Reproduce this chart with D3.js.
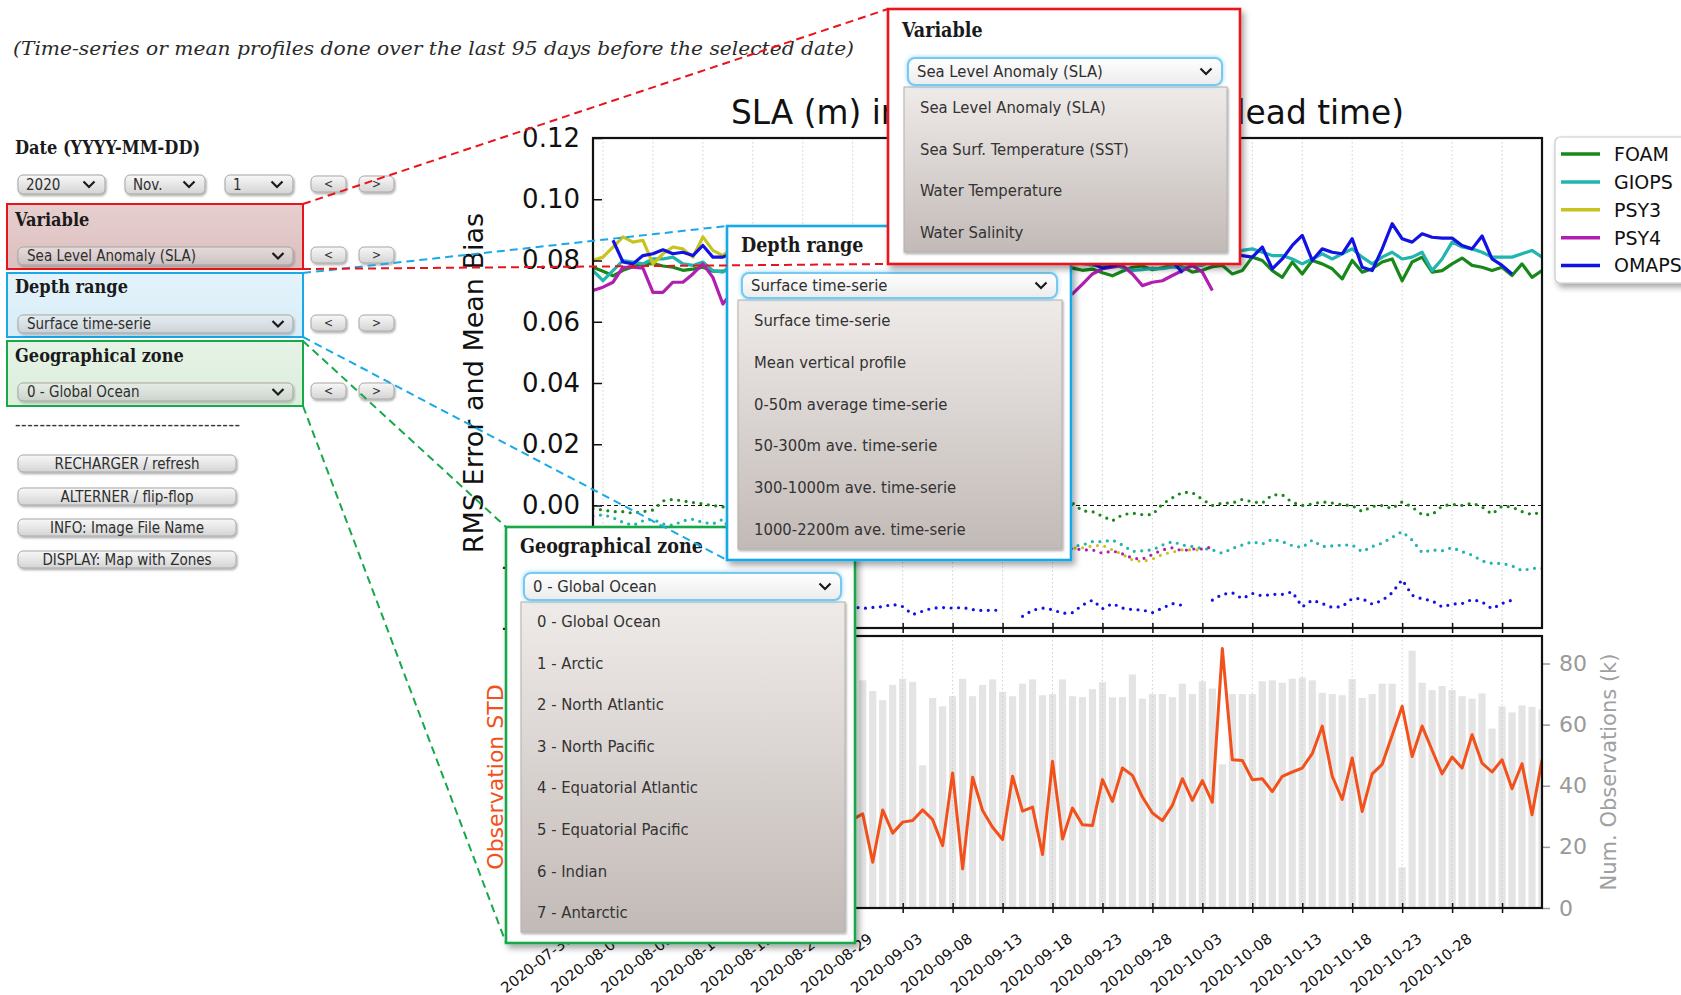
<!DOCTYPE html>
<html>
<head>
<meta charset="utf-8">
<script src="https://cdn.jsdelivr.net/npm/d3@7/dist/d3.min.js"></script>
<style>
  html, body { margin: 0; padding: 0; background: #fff; overflow: hidden; }
  svg { display: block; }
</style>
</head>
<body>
<svg id="page" width="1681" height="995"></svg>
<script>
// ---------------- data ----------------
const firstDay = "2020-07-29";
const lastDay = "2020-11-01";

const modelNames = ["FOAM", "GIOPS", "PSY3", "PSY4", "OMAPS"];
const modelColors = ["#18881a", "#22b4ae", "#c8c41e", "#b11fb1", "#1212e2"];

// RMS error (m), one value per day
const foamRmse = [
  0.0778, 0.0765, 0.0750, 0.0768, 0.0780, 0.0788, 0.0790, 0.0782,
  0.0778, 0.0768, 0.0772, 0.0778, 0.0765, 0.0765, 0.0772, 0.0785,
  0.0768, 0.0790, 0.0775, 0.0762, 0.0781, 0.0794, 0.0770, 0.0779,
  0.0766, 0.0788, 0.0783, 0.0771, 0.0759, 0.0777, 0.0792, 0.0780,
  0.0768, 0.0786, 0.0774, 0.0763, 0.0789, 0.0778, 0.0770, 0.0784,
  0.0796, 0.0772, 0.0765, 0.0781, 0.0776, 0.0790, 0.0769, 0.0782,
  0.0775, 0.0768, 0.0772, 0.0760, 0.0750, 0.0765, 0.0778, 0.0782,
  0.0770, 0.0776, 0.0785, 0.0779, 0.0762, 0.0768, 0.0780, 0.0784,
  0.0756, 0.0767, 0.0811, 0.0800, 0.0767, 0.0745, 0.0795, 0.0756,
  0.0800, 0.0789, 0.0773, 0.0740, 0.0800, 0.0762, 0.0773, 0.0795,
  0.0805, 0.0734, 0.0795, 0.0811, 0.0762, 0.0767, 0.0789, 0.0808,
  0.0784, 0.0778, 0.0767, 0.0778, 0.0751, 0.0789, 0.0745, 0.0767
];
const giopsRmse = [
  0.0767, 0.0734, 0.0767, 0.0800, 0.0795, 0.0789, 0.0805, 0.0805,
  0.0811, 0.0789, 0.0784, 0.0795, 0.0767, 0.0762, 0.0790, 0.0805,
  0.0812, 0.0798, 0.0820, 0.0806, 0.0793, 0.0815, 0.0826, 0.0801,
  0.0810, 0.0822, 0.0797, 0.0808, 0.0818, 0.0803, 0.0795, 0.0811,
  0.0825, 0.0806, 0.0799, 0.0814, 0.0821, 0.0802, 0.0809, 0.0817,
  0.0800, 0.0812, 0.0826, 0.0805, 0.0798, 0.0815, 0.0808, 0.0802,
  0.0795, 0.0790, 0.0785, 0.0780, 0.0792, 0.0776, 0.0768, 0.0770,
  0.0774, 0.0773, 0.0779, 0.0776, 0.0782, 0.0784, 0.0800, 0.0815,
  0.0827, 0.0833, 0.0838, 0.0827, 0.0816, 0.0816, 0.0805, 0.0789,
  0.0805, 0.0822, 0.0805, 0.0822, 0.0838, 0.0811, 0.0789, 0.0811,
  0.0827, 0.0805, 0.0811, 0.0827, 0.0767, 0.0805, 0.0860, 0.0844,
  0.0838, 0.0827, 0.0811, 0.0811, 0.0811, 0.0822, 0.0833, 0.0811
];
const psy3Rmse = [
  0.0800, 0.0811, 0.0844, 0.0877, 0.0860, 0.0866, 0.0789, 0.0822,
  0.0844, 0.0838, 0.0811, 0.0877, 0.0833, 0.0816, 0.0842, 0.0858,
  0.0835, 0.0850, 0.0868, 0.0840, 0.0829, 0.0855, 0.0862, 0.0838,
  0.0847, 0.0870, 0.0852, 0.0836, 0.0859, 0.0866, 0.0843, 0.0851,
  0.0872, 0.0848, 0.0839, 0.0861, 0.0855, 0.0868, 0.0845, 0.0837,
  0.0853, 0.0864, 0.0849, 0.0858, 0.0871, 0.0846, 0.0856, 0.0862,
  0.0850, 0.0843, 0.0858, 0.0866, 0.0847, 0.0852, 0.0861, 0.0845,
  0.0855, 0.0868, 0.0849, 0.0840, 0.0857, 0.0846, null, null,
  null, null, null, null, null, null, null, null,
  null, null, null, null, null, null, null, null,
  null, null, null, null, null, null, null, null,
  null, null, null, null, null, null, null, null
];
const psy4Rmse = [
  0.0702, 0.0713, 0.0729, 0.0778, 0.0778, 0.0775, 0.0696, 0.0696,
  0.0729, 0.0729, 0.0756, 0.0789, 0.0745, 0.0658, 0.0700, 0.0725,
  0.0748, 0.0712, 0.0735, 0.0760, 0.0741, 0.0718, 0.0730, 0.0752,
  0.0739, 0.0708, 0.0726, 0.0749, 0.0733, 0.0716, 0.0744, 0.0758,
  0.0731, 0.0720, 0.0747, 0.0738, 0.0712, 0.0729, 0.0755, 0.0742,
  0.0723, 0.0736, 0.0750, 0.0717, 0.0730, 0.0746, 0.0728, 0.0705,
  0.0691, 0.0723, 0.0756, 0.0773, 0.0778, 0.0784, 0.0756, 0.0718,
  0.0729, 0.0734, 0.0751, 0.0767, 0.0784, 0.0762, 0.0702, null,
  null, null, null, null, null, null, null, null,
  null, null, null, null, null, null, null, null,
  null, null, null, null, null, null, null, null,
  null, null, null, null, null, null, null, null
];
const omapsRmse = [
  null, null, 0.0866, 0.0795, 0.0789, 0.0816, 0.0822, 0.0835,
  0.0822, 0.0827, 0.0816, 0.0849, 0.0811, 0.0811, 0.0825, 0.0838,
  0.0819, 0.0831, 0.0845, 0.0828, 0.0815, 0.0836, 0.0842, 0.0824,
  0.0833, 0.0818, 0.0840, 0.0847, 0.0826, 0.0821, 0.0839, 0.0830,
  0.0816, 0.0835, 0.0844, 0.0827, 0.0820, 0.0838, 0.0829, 0.0841,
  0.0832, 0.0823, null, 0.0818, 0.0834, 0.0826, 0.0815, 0.0830,
  0.0812, 0.0800, 0.0790, 0.0775, 0.0782, 0.0792, 0.0805, 0.0812,
  0.0809, 0.0815, 0.0798, 0.0760, null, null, 0.0822, 0.0830,
  0.0826, 0.0816, 0.0811, 0.0844, 0.0773, 0.0805, 0.0849, 0.0882,
  0.0800, 0.0838, 0.0827, 0.0822, 0.0871, 0.0778, 0.0767, 0.0838,
  0.0920, 0.0871, 0.0860, 0.0887, 0.0876, 0.0873, 0.0873, 0.0849,
  0.0838, 0.0880, 0.0805, 0.0784, 0.0756, null, null, null
];

// Mean bias (m), one value per day
const foamBias = [
  -0.0010, -0.0015, -0.0020, -0.0020, -0.0025, -0.0020, -0.0015, 0.0015,
  0.0020, 0.0015, 0.0010, 0.0005, 0.0000, -0.0005, 0.0010, 0.0020,
  0.0005, -0.0010, 0.0015, 0.0025, 0.0000, -0.0015, 0.0010, 0.0030,
  0.0015, -0.0005, 0.0008, 0.0022, -0.0012, 0.0004, 0.0018, 0.0026,
  0.0010, -0.0008, 0.0012, 0.0030, 0.0016, 0.0002, -0.0010, 0.0008,
  0.0020, 0.0012, -0.0004, 0.0006, 0.0015, 0.0003, -0.0006, 0.0004,
  0.0008, -0.0018, -0.0020, -0.0035, -0.0050, -0.0030, -0.0025, -0.0030,
  -0.0030, 0.0005, 0.0025, 0.0043, 0.0042, 0.0020, 0.0000, 0.0008,
  0.0008, 0.0020, 0.0012, 0.0008, 0.0035, 0.0035, 0.0010, 0.0000,
  0.0005, 0.0012, 0.0008, 0.0002, 0.0000, -0.0020, -0.0003, 0.0000,
  -0.0010, 0.0012, -0.0005, -0.0030, -0.0030, -0.0002, 0.0004, 0.0000,
  0.0008, -0.0005, -0.0028, -0.0002, -0.0005, -0.0020, -0.0030, -0.0020
];
const giopsBias = [
  -0.0035, -0.0030, -0.0040, -0.0055, -0.0065, -0.0050, -0.0045, -0.0060,
  -0.0065, -0.0050, -0.0045, -0.0055, -0.0060, -0.0045, -0.0090, -0.0110,
  -0.0120, -0.0105, -0.0130, -0.0115, -0.0125, -0.0140, -0.0118, -0.0128,
  -0.0135, -0.0122, -0.0110, -0.0132, -0.0140, -0.0125, -0.0118, -0.0130,
  -0.0138, -0.0124, -0.0116, -0.0131, -0.0142, -0.0127, -0.0120, -0.0133,
  -0.0126, -0.0117, -0.0135, -0.0141, -0.0128, -0.0122, -0.0136, -0.0130,
  -0.0134, -0.0129, -0.0118, -0.0118, -0.0113, -0.0129, -0.0150, -0.0148,
  -0.0145, -0.0129, -0.0118, -0.0129, -0.0134, -0.0140, -0.0145, -0.0156,
  -0.0140, -0.0129, -0.0118, -0.0126, -0.0110, -0.0118, -0.0131, -0.0137,
  -0.0113, -0.0134, -0.0132, -0.0129, -0.0129, -0.0151, -0.0134, -0.0123,
  -0.0104, -0.0085, -0.0113, -0.0154, -0.0145, -0.0148, -0.0137, -0.0151,
  -0.0162, -0.0181, -0.0189, -0.0189, -0.0197, -0.0213, -0.0205, -0.0205
];
const psy3Bias = [
  -0.0140, -0.0150, -0.0135, -0.0160, -0.0148, -0.0155, -0.0170, -0.0145,
  -0.0152, -0.0138, -0.0160, -0.0149, -0.0142, -0.0165, -0.0150, -0.0158,
  -0.0144, -0.0162, -0.0151, -0.0139, -0.0157, -0.0148, -0.0166, -0.0153,
  -0.0141, -0.0159, -0.0150, -0.0163, -0.0146, -0.0155, -0.0142, -0.0160,
  -0.0149, -0.0137, -0.0156, -0.0164, -0.0145, -0.0152, -0.0140, -0.0158,
  -0.0150, -0.0143, -0.0161, -0.0147, -0.0155, -0.0139, -0.0152, -0.0146,
  -0.0140, -0.0138, -0.0132, -0.0130, -0.0145, -0.0160, -0.0178, -0.0183,
  -0.0175, -0.0160, -0.0152, -0.0145, -0.0145, -0.0145, null, null,
  null, null, null, null, null, null, null, null,
  null, null, null, null, null, null, null, null,
  null, null, null, null, null, null, null, null,
  null, null, null, null, null, null, null, null
];
const psy4Bias = [
  -0.0150, -0.0162, -0.0145, -0.0170, -0.0158, -0.0148, -0.0165, -0.0155,
  -0.0142, -0.0160, -0.0152, -0.0168, -0.0147, -0.0156, -0.0163, -0.0149,
  -0.0158, -0.0144, -0.0161, -0.0153, -0.0140, -0.0166, -0.0150, -0.0157,
  -0.0146, -0.0163, -0.0155, -0.0148, -0.0160, -0.0143, -0.0157, -0.0151,
  -0.0164, -0.0149, -0.0141, -0.0158, -0.0152, -0.0167, -0.0145, -0.0154,
  -0.0160, -0.0147, -0.0156, -0.0143, -0.0159, -0.0151, -0.0146, -0.0153,
  -0.0140, -0.0145, -0.0145, -0.0156, -0.0148, -0.0158, -0.0172, -0.0175,
  -0.0160, -0.0145, -0.0138, -0.0148, -0.0142, -0.0142, -0.0135, null,
  null, null, null, null, null, null, null, null,
  null, null, null, null, null, null, null, null,
  null, null, null, null, null, null, null, null,
  null, null, null, null, null, null, null, null
];
const omapsBias = [
  null, null, -0.0330, -0.0345, -0.0338, -0.0326, -0.0340, -0.0352,
  -0.0335, -0.0322, -0.0341, -0.0348, -0.0330, -0.0337, -0.0344, -0.0328,
  -0.0339, -0.0350, -0.0333, -0.0325, -0.0342, -0.0336, -0.0347, -0.0331,
  -0.0338, -0.0344, -0.0330, -0.0336, -0.0333, -0.0330, -0.0323, -0.0330,
  -0.0356, -0.0345, -0.0335, -0.0333, -0.0335, -0.0333, -0.0340, -0.0343,
  -0.0342, -0.0342, null, -0.0362, -0.0342, -0.0335, -0.0340, -0.0352,
  -0.0350, -0.0325, -0.0309, -0.0337, -0.0320, -0.0335, -0.0340, -0.0341,
  -0.0350, -0.0335, -0.0320, -0.0326, null, null, -0.0309, -0.0290,
  -0.0285, -0.0304, -0.0287, -0.0295, -0.0290, -0.0290, -0.0282, -0.0331,
  -0.0309, -0.0320, -0.0333, -0.0330, -0.0304, -0.0304, -0.0322, -0.0310,
  -0.0285, -0.0242, -0.0293, -0.0305, -0.0311, -0.0331, -0.0322, -0.0320,
  -0.0307, -0.0315, -0.0337, -0.0320, -0.0309, null, null, null
];

// Number of observations per day (thousands)
const numObs = [
  72, 69, 74, 71, 68, 73, 75, 70,
  69, 72, 74, 67, 71, 73, 70, 68,
  74, 72, 69, 71, 75, 70, 66, 72,
  73, 69, 71, 74.5, 71, 68, 73, 75,
  74, 46.7, 68.7, 66, 69.3, 75, 69.3, 73,
  74.8, 70.7, 69.3, 73.4, 74.8, 69.6, 70, 74.8,
  69.3, 69, 71.6, 73.9, 68.9, 69, 76.4, 68.5,
  70, 70, 69, 73.4, 70, 74.2, 71.8, 47,
  70, 70, 70, 74.2, 74.5, 73.7, 75, 75.4,
  74.5, 70.4, 70, 69.6, 74.9, 68.7, 70, 73.4,
  73.4, 13.3, 84.2, 73.7, 71.3, 72.6, 71.3, 69.3,
  68.5, 70.2, 58.7, 66, 64, 66.3, 65.8, 65
];
// Standard deviation of the observations (cm)
const obsStd = [
  2.80, 3.50, 2.40, 3.10, 3.90, 2.60, 3.30, 2.20,
  3.00, 3.60, 2.70, 2.50, 3.40, 2.90, 2.10, 3.20,
  3.70, 2.60, 3.00, 2.30, 3.50, 2.80, 2.40, 3.10,
  2.70, 3.30, 2.90, 3.08, 1.50, 3.21, 2.45, 2.81,
  2.86, 3.21, 2.89, 2.04, 4.42, 1.28, 4.28, 3.19,
  2.64, 2.24, 4.31, 3.17, 3.30, 1.75, 4.80, 2.26,
  3.27, 2.72, 2.70, 4.20, 3.49, 4.58, 4.34, 3.63,
  3.11, 2.86, 3.36, 4.23, 3.52, 4.17, 3.46, 8.49,
  4.85, 4.83, 4.20, 4.23, 3.81, 4.31, 4.45, 4.58,
  5.05, 5.95, 4.31, 3.55, 4.91, 3.16, 4.39, 4.70,
  5.65, 6.60, 4.96, 5.95, 5.16, 4.39, 4.94, 4.58,
  5.67, 4.74, 4.45, 4.85, 3.90, 4.72, 3.05, 4.85
];

const tickDates = [
  "2020-07-30", "2020-08-04", "2020-08-09", "2020-08-14", "2020-08-19",
  "2020-08-24", "2020-08-29", "2020-09-03", "2020-09-08", "2020-09-13",
  "2020-09-18", "2020-09-23", "2020-09-28", "2020-10-03", "2020-10-08",
  "2020-10-13", "2020-10-18", "2020-10-23", "2020-10-28"
];
const rmseTicks = [-0.04, -0.02, 0.00, 0.02, 0.04, 0.06, 0.08, 0.10, 0.12];
const obsTicks = [0, 20, 40, 60, 80];
const stdTicks = [0, 2, 4, 6, 8];

const chartTitle = "SLA (m) in Global Ocean (best lead time)";
const subtitle = "(Time-series or mean profiles done over the last 95 days before the selected date)";
const dateSelects = ["2020", "Nov.", "1"];
const variableOptions = ["Sea Level Anomaly (SLA)", "Sea Surf. Temperature (SST)", "Water Temperature", "Water Salinity"];
const depthOptions = ["Surface time-serie", "Mean vertical profile", "0-50m average time-serie",
  "50-300m ave. time-serie", "300-1000m ave. time-serie", "1000-2200m ave. time-serie"];
const zoneOptions = ["0 - Global Ocean", "1 - Arctic", "2 - North Atlantic", "3 - North Pacific",
  "4 - Equatorial Atlantic", "5 - Equatorial Pacific", "6 - Indian", "7 - Antarctic"];
const actionButtons = ["RECHARGER / refresh", "ALTERNER / flip-flop", "INFO: Image File Name", "DISPLAY: Map with Zones"];

// ---------------- setup ----------------
const svg = d3.select("#page");
const defs = svg.append("defs");
const chartFont = "'DejaVu Sans', sans-serif";
const serifFont = "'DejaVu Serif Condensed', 'DejaVu Serif', serif";
const uiFont = "'DejaVu Sans Condensed', 'DejaVu Sans', sans-serif";

const parse = d3.timeParse("%Y-%m-%d");
const days = d3.timeDay.range(parse(firstDay), d3.timeDay.offset(parse(lastDay), 1));
const tickVals = tickDates.map(parse);

const X0 = 593, X1 = 1542, TOP0 = 138, TOP1 = 628, BOT0 = 636, BOT1 = 908;
const x = d3.scaleTime().domain([parse(firstDay), parse(lastDay)]).range([X0, X1]);
const yTop = d3.scaleLinear().domain([-0.04, 0.12]).range([TOP1, TOP0]);
const yObs = d3.scaleLinear().domain([0, 89]).range([BOT1, BOT0]);
const yStd = d3.scaleLinear().domain([0, 8.9]).range([BOT1, BOT0]);

defs.append("clipPath").attr("id", "clipTop").append("rect")
  .attr("x", X0).attr("y", TOP0).attr("width", X1 - X0).attr("height", TOP1 - TOP0);
defs.append("clipPath").attr("id", "clipBot").append("rect")
  .attr("x", X0).attr("y", BOT0).attr("width", X1 - X0).attr("height", BOT1 - BOT0);

const sh = defs.append("filter").attr("id", "shadow")
  .attr("x", "-10%").attr("y", "-10%").attr("width", "125%").attr("height", "125%");
sh.append("feDropShadow").attr("dx", 3).attr("dy", 4).attr("stdDeviation", 3)
  .attr("flood-color", "#000").attr("flood-opacity", 0.35);
const sh2 = defs.append("filter").attr("id", "softShadow")
  .attr("x", "-5%").attr("y", "-20%").attr("width", "112%").attr("height", "160%");
sh2.append("feDropShadow").attr("dx", 1).attr("dy", 1.5).attr("stdDeviation", 1)
  .attr("flood-color", "#000").attr("flood-opacity", 0.35);
const glow = defs.append("filter").attr("id", "glow")
  .attr("x", "-10%").attr("y", "-40%").attr("width", "120%").attr("height", "180%");
glow.append("feDropShadow").attr("dx", 0).attr("dy", 0).attr("stdDeviation", 2)
  .attr("flood-color", "#5cc0f0").attr("flood-opacity", 0.7);

function vGrad(id, stops) {
  const g = defs.append("linearGradient").attr("id", id)
    .attr("x1", 0).attr("y1", 0).attr("x2", 0).attr("y2", 1);
  stops.forEach(([o, c, op]) => g.append("stop").attr("offset", o)
    .attr("stop-color", c).attr("stop-opacity", op == null ? 1 : op));
}
vGrad("gBtn", [[0, "#f8f8f8"], [1, "#d4d4d4"]]);
vGrad("gTint", [[0, "#ffffff", 0.45], [1, "#cfcfcf", 0.55]]);
vGrad("gList", [[0, "#efebe9"], [1, "#c2bab7"]]);
vGrad("gFocus", [[0, "#ffffff"], [1, "#ececec"]]);
vGrad("gRedBox", [[0, "#e7cfcf"], [1, "#dcbfbf"]]);
vGrad("gBlueBox", [[0, "#e4f3fb"], [1, "#d8edf8"]]);
vGrad("gGreenBox", [[0, "#e6f3e6"], [1, "#dbeedb"]]);

// ---------------- chart ----------------
const chart = svg.append("g").attr("font-family", chartFont);

// bars: number of observations
chart.append("g").attr("clip-path", "url(#clipBot)")
  .selectAll("rect").data(numObs).join("rect")
  .attr("x", (d, i) => x(days[i]) - 3.6).attr("width", 7.2)
  .attr("y", d => yObs(d)).attr("height", d => BOT1 - yObs(d))
  .attr("fill", "#e4e4e4");

// vertical grid
[[TOP0, TOP1], [BOT0, BOT1]].forEach(([a, b]) => {
  chart.append("g").selectAll("line").data(tickVals).join("line")
    .attr("x1", d => x(d)).attr("x2", d => x(d)).attr("y1", a).attr("y2", b)
    .attr("stroke", "#cfcfcf").attr("stroke-width", 1).attr("stroke-dasharray", "1.5 2.5");
});

// observation std line
const stdLine = d3.line().x((d, i) => x(days[i])).y(d => yStd(d));
chart.append("path").attr("clip-path", "url(#clipBot)")
  .attr("d", stdLine(obsStd)).attr("fill", "none")
  .attr("stroke", "#f2511c").attr("stroke-width", 3).attr("stroke-linejoin", "round");

// zero line
chart.append("line").attr("x1", X0).attr("x2", X1).attr("y1", yTop(0)).attr("y2", yTop(0))
  .attr("stroke", "#111").attr("stroke-width", 1.2).attr("stroke-dasharray", "4 3");

const modelLine = d3.line().defined(d => d != null)
  .x((d, i) => x(days[i])).y(d => yTop(d));
const biasSeries = [foamBias, giopsBias, psy3Bias, psy4Bias, omapsBias];
const rmseSeries = [foamRmse, giopsRmse, psy3Rmse, psy4Rmse, omapsRmse];
const topG = chart.append("g").attr("clip-path", "url(#clipTop)");
biasSeries.forEach((s, k) => {
  topG.append("path").attr("d", modelLine(s)).attr("fill", "none")
    .attr("stroke", modelColors[k]).attr("stroke-width", 3.2)
    .attr("stroke-linecap", "round").attr("stroke-dasharray", "0 7.5");
});
rmseSeries.forEach((s, k) => {
  topG.append("path").attr("d", modelLine(s)).attr("fill", "none")
    .attr("stroke", modelColors[k]).attr("stroke-width", 3.2).attr("stroke-linejoin", "round");
});

// axes
function styleAxis(g, color, size) {
  g.select(".domain").remove();
  g.selectAll(".tick line").attr("stroke", color).attr("stroke-width", 1.5);
  g.selectAll(".tick text").attr("fill", color).attr("font-size", size).attr("font-family", chartFont);
}
chart.append("g").attr("transform", `translate(${X0},0)`)
  .call(d3.axisLeft(yTop).tickValues(rmseTicks).tickSize(-9).tickPadding(13).tickFormat(d3.format(".2f")))
  .call(g => styleAxis(g, "#111", 26));
chart.append("g").attr("transform", `translate(0,${TOP1 - 5})`)
  .call(d3.axisBottom(x).tickValues(tickVals).tickSize(10).tickFormat(""))
  .call(g => styleAxis(g, "#111", 16));
chart.append("g").attr("transform", `translate(0,${BOT1 - 5})`)
  .call(d3.axisBottom(x).tickValues(tickVals).tickSize(10).tickFormat(""))
  .call(g => styleAxis(g, "#111", 16));
chart.append("g").attr("transform", `translate(${X1},0)`)
  .call(d3.axisRight(yObs).tickValues(obsTicks).tickSize(8).tickPadding(9))
  .call(g => styleAxis(g, "#9a9a9a", 22));
// left axis of the std line (its labels sit under the zone panel)
chart.append("g").attr("transform", `translate(${X0},0)`)
  .call(d3.axisLeft(yStd).tickValues(stdTicks).tickSize(8).tickFormat(""))
  .call(g => styleAxis(g, "#f2511c", 22));

// date labels, slanted
const fmt = d3.timeFormat("%Y-%m-%d");
chart.append("g").selectAll("text").data(tickVals).join("text")
  .attr("transform", d => `translate(${x(d) - 36},${BOT1 + 24}) rotate(-38)`)
  .attr("text-anchor", "end").attr("dy", "0.75em")
  .attr("font-size", 14.8).attr("fill", "#111").text(d => fmt(d));

// frames
[[TOP0, TOP1], [BOT0, BOT1]].forEach(([a, b]) => {
  chart.append("rect").attr("x", X0).attr("y", a).attr("width", X1 - X0).attr("height", b - a)
    .attr("fill", "none").attr("stroke", "#111").attr("stroke-width", 2.2);
});

// titles
chart.append("text").attr("x", (X0 + X1) / 2).attr("y", 124).attr("text-anchor", "middle")
  .attr("font-size", 32.8).attr("fill", "#111").text(chartTitle);
chart.append("text").attr("transform", `translate(483,${(TOP0 + TOP1) / 2}) rotate(-90)`)
  .attr("text-anchor", "middle").attr("font-size", 27).attr("fill", "#111").text("RMS Error and Mean Bias");
chart.append("text").attr("transform", `translate(503,${(BOT0 + BOT1) / 2 + 5}) rotate(-90)`)
  .attr("text-anchor", "middle").attr("font-size", 22).attr("fill", "#f2511c").text("Observation STD");
chart.append("text").attr("transform", `translate(1616,${(BOT0 + BOT1) / 2}) rotate(-90)`)
  .attr("text-anchor", "middle").attr("font-size", 21).attr("fill", "#a0a0a0").text("Num. Observations (k)");

// legend
const leg = chart.append("g");
leg.append("rect").attr("x", 1555).attr("y", 137).attr("width", 150).attr("height", 146).attr("rx", 5)
  .attr("fill", "#fff").attr("stroke", "#c8c8c8").attr("stroke-width", 1.2).attr("filter", "url(#shadow)");
const legItems = leg.selectAll("g.item").data(modelNames).join("g")
  .attr("transform", (d, i) => `translate(0,${154 + i * 27.9})`);
legItems.append("line").attr("x1", 1561).attr("x2", 1600)
  .attr("stroke", (d, i) => modelColors[i]).attr("stroke-width", 3.5);
legItems.append("text").attr("x", 1614).attr("dy", "0.36em").attr("font-size", 19)
  .attr("fill", "#111").text(d => d);

// ---------------- control panel ----------------
const ui = svg.append("g");

function selectBox(g, x0, y0, w, h, label, o = {}) {
  g.append("rect").attr("x", x0).attr("y", y0).attr("width", w).attr("height", h).attr("rx", o.focused ? 7 : 5)
    .attr("fill", o.focused ? "url(#gFocus)" : (o.tinted ? "url(#gTint)" : "url(#gBtn)"))
    .attr("stroke", o.focused ? "#78c9f0" : "#a5a5a5").attr("stroke-width", o.focused ? 2 : 1)
    .attr("filter", o.focused ? "url(#glow)" : "url(#softShadow)");
  g.append("text").attr("x", x0 + (o.pad || 9)).attr("y", y0 + h / 2).attr("dy", "0.36em")
    .attr("font-family", uiFont).attr("font-size", o.fs || 15).attr("fill", "#2e2e2e").text(label);
  const cx = x0 + w - (o.chev || 15), cy = y0 + h / 2;
  g.append("path").attr("d", `M${cx - 5.5},${cy - 3}L${cx},${cy + 2.5}L${cx + 5.5},${cy - 3}`)
    .attr("fill", "none").attr("stroke", "#1a1a1a").attr("stroke-width", 2.2);
}
function pushButton(g, x0, y0, w, h, label, fs) {
  g.append("rect").attr("x", x0).attr("y", y0).attr("width", w).attr("height", h).attr("rx", 5)
    .attr("fill", "url(#gBtn)").attr("stroke", "#a8a8a8").attr("stroke-width", 1)
    .attr("filter", "url(#softShadow)");
  g.append("text").attr("x", x0 + w / 2).attr("y", y0 + h / 2).attr("dy", "0.36em").attr("text-anchor", "middle")
    .attr("font-family", uiFont).attr("font-size", fs).attr("fill", "#2e2e2e").text(label);
}
function heading(g, x0, y0, label, fs) {
  g.append("text").attr("x", x0).attr("y", y0).attr("font-family", serifFont).attr("font-weight", "bold")
    .attr("font-size", fs).attr("fill", "#1a1a1a").text(label);
}

ui.append("text").attr("x", 13).attr("y", 55).attr("font-family", "'DejaVu Serif', serif").attr("font-style", "italic")
  .attr("font-size", 18.5).attr("fill", "#2a2a2a")
  .attr("textLength", 841).attr("lengthAdjust", "spacingAndGlyphs").text(subtitle);

heading(ui, 15, 154, "Date (YYYY-MM-DD)", 18);
const dateBoxes = [[18, 87], [125, 80], [225, 68]];
dateSelects.forEach((t, i) => selectBox(ui, dateBoxes[i][0], 175, dateBoxes[i][1], 19, t, { pad: 8, chev: 16 }));

// coloured selection panels
const panels = [
  { y: 204, h: 65, fill: "url(#gRedBox)", stroke: "#e8141c", title: "Variable", ty: 226, sy: 247, label: variableOptions[0] },
  { y: 273, h: 64, fill: "url(#gBlueBox)", stroke: "#19a9e6", title: "Depth range", ty: 293, sy: 315, label: depthOptions[0] },
  { y: 341, h: 65, fill: "url(#gGreenBox)", stroke: "#17a84a", title: "Geographical zone", ty: 362, sy: 383, label: zoneOptions[0] }
];
panels.forEach(p => {
  ui.append("rect").attr("x", 7).attr("y", p.y).attr("width", 296).attr("height", p.h)
    .attr("fill", p.fill).attr("stroke", p.stroke).attr("stroke-width", 2);
  heading(ui, 15, p.ty, p.title, 18);
  selectBox(ui, 18, p.sy, 275, 18, p.label, { tinted: true, pad: 9, chev: 15 });
});
[176, 247, 315, 383].forEach(yy => {
  pushButton(ui, 311, yy, 35, 16, "<", 12);
  pushButton(ui, 359, yy, 35, 16, ">", 12);
});

ui.append("text").attr("x", 15).attr("y", 431).attr("font-family", serifFont).attr("font-size", 18)
  .attr("fill", "#333").attr("textLength", 225).attr("lengthAdjust", "spacing")
  .text("-------------------------------------");
[455, 488, 519, 551].forEach((yy, i) => pushButton(ui, 18, yy, 218, 17, actionButtons[i], 15));

// ---------------- opened drop-down panels ----------------
function popup(c) {
  const g = svg.append("g");
  g.append("rect").attr("x", c.x).attr("y", c.y).attr("width", c.w).attr("height", c.h)
    .attr("fill", "#fff").attr("stroke", c.color).attr("stroke-width", 2.6).attr("filter", "url(#shadow)");
  heading(g, c.x + 14, c.ty, c.title, 19.5);
  g.append("rect").attr("x", c.lx).attr("y", c.ly).attr("width", c.lw).attr("height", c.lh)
    .attr("fill", "url(#gList)").attr("stroke", "#b5b0ad").attr("stroke-width", 1).attr("filter", "url(#softShadow)");
  selectBox(g, c.sx, c.sy, c.sw, c.sh, c.options[0], { focused: true, fs: 16.5, pad: 9, chev: 16 });
  g.selectAll("text.item").data(c.options).join("text").attr("class", "item")
    .attr("x", c.lx + 16).attr("y", (d, i) => c.iy + i * c.step)
    .attr("font-family", uiFont).attr("font-size", 16.5).attr("fill", "#333").text(d => d);
  return g;
}
function dashed(pts, color) {
  pts.forEach(([a, b, c2, d]) => svg.append("line").attr("x1", a).attr("y1", b).attr("x2", c2).attr("y2", d)
    .attr("stroke", color).attr("stroke-width", 2).attr("stroke-dasharray", "8 5"));
}

popup({ x: 506, y: 527, w: 349, h: 416, color: "#17a84a", title: "Geographical zone", ty: 553,
  sx: 524, sy: 573, sw: 317, sh: 27, lx: 521, ly: 602, lw: 324, lh: 330,
  options: zoneOptions, iy: 627, step: 41.6 });
dashed([[303, 341, 506, 527], [303, 406, 506, 943]], "#17a84a");

popup({ x: 727, y: 226, w: 344, h: 334, color: "#19a9e6", title: "Depth range", ty: 252,
  sx: 742, sy: 273, sw: 315, sh: 25, lx: 738, ly: 300, lw: 324, lh: 249,
  options: depthOptions, iy: 326, step: 41.8 });
dashed([[303, 273, 727, 226], [303, 337, 727, 560]], "#19a9e6");

popup({ x: 888, y: 9, w: 352, h: 255, color: "#e8141c", title: "Variable", ty: 37,
  sx: 908, sy: 58, sw: 314, sh: 27, lx: 904, ly: 87, lw: 323, lh: 165,
  options: variableOptions, iy: 113, step: 41.7 });
dashed([[303, 204, 888, 9], [303, 269, 888, 264]], "#e8141c");
</script>
</body>
</html>
